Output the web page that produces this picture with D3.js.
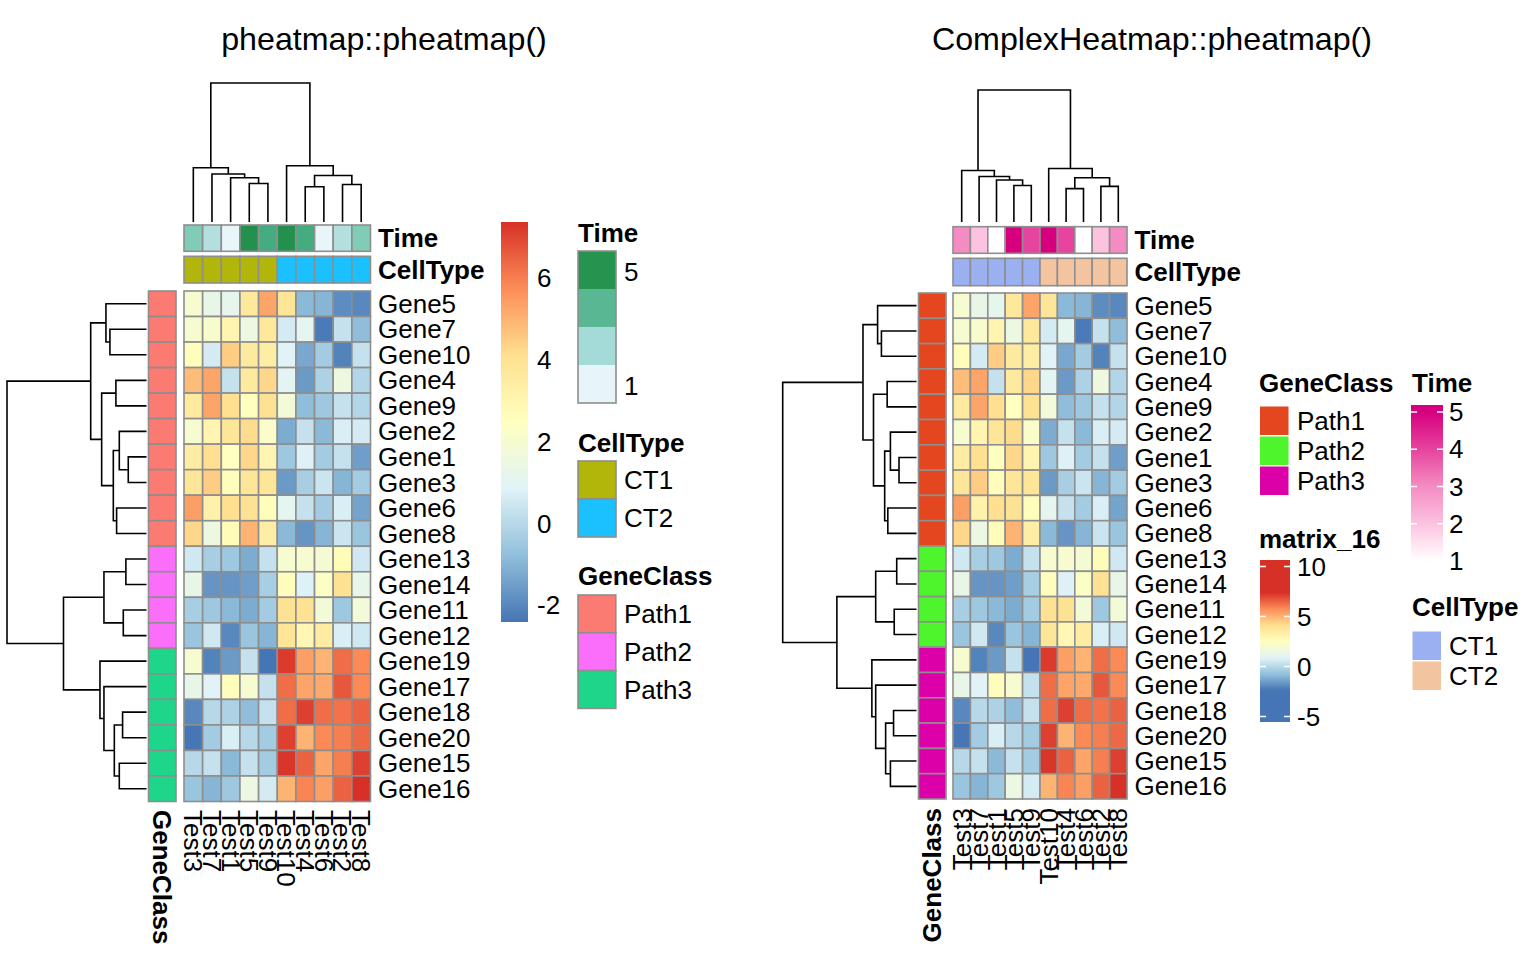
<!DOCTYPE html>
<html>
<head>
<meta charset="utf-8">
<script src="https://cdn.jsdelivr.net/npm/d3@7"></script>
<style>
body { margin: 0; background: #fff; }
text { font-family: "Liberation Sans", Arial, Helvetica, sans-serif; fill: #000; }
</style>
</head>
<body>
<svg id="chart" width="1536" height="960"></svg>
<script>

// ---- data (display order, as clustered) ----
var genes = ["Gene5","Gene7","Gene10","Gene4","Gene9","Gene2","Gene1","Gene3","Gene6","Gene8",
             "Gene13","Gene14","Gene11","Gene12","Gene19","Gene17","Gene18","Gene20","Gene15","Gene16"];
var tests = ["Test3","Test7","Test1","Test5","Test9","Test10","Test4","Test6","Test2","Test8"];

var timeOfTest = [3, 2, 1, 5, 4, 5, 4, 1, 2, 3];
var cellTypeOfTest = ["CT1","CT1","CT1","CT1","CT1","CT2","CT2","CT2","CT2","CT2"];
var geneClassOfGene = ["Path1","Path1","Path1","Path1","Path1","Path1","Path1","Path1","Path1","Path1",
                       "Path2","Path2","Path2","Path2","Path3","Path3","Path3","Path3","Path3","Path3"];

var expr = [
  [ 2.0, 1.3, 1.2, 3.7, 5.3, 3.8,-0.9,-1.0,-1.9,-2.0],
  [ 2.0, 2.1, 3.0, 1.5, 3.7, 0.6, 1.1,-2.3, 0.3,-0.8],
  [ 2.6, 0.6, 4.5, 3.6, 3.4, 0.9,-1.3,-0.4,-2.1, 0.3],
  [ 4.8, 5.3, 0.3, 3.6, 4.3, 1.0,-1.6,-0.2, 1.6,-0.1],
  [ 3.6, 5.3, 4.1, 2.5, 4.0, 1.8,-0.8,-0.5, 0.3,-0.1],
  [ 2.0, 3.0, 3.8, 4.2, 2.2,-1.2, 0.3,-0.9, 0.7, 0.6],
  [ 3.5, 4.1, 2.5, 4.3, 3.0,-0.5, 0.8,-0.4, 0.3,-1.5],
  [ 3.8, 4.5, 2.6, 3.8, 3.8,-1.6,-0.3, 0.4,-1.0,-0.4],
  [ 5.4, 3.2, 4.1, 4.0, 2.6, 1.1, 0.3,-0.4, 0.7,-1.4],
  [ 4.3, 1.5, 2.7, 5.0, 3.4,-0.9,-1.7,-1.0, 0.4,-0.6],
  [ 0.5,-0.3,-0.5,-1.2, 0.3, 2.0, 2.0, 1.9, 2.7, 0.5],
  [ 1.3,-1.7,-1.7,-1.5,-0.3, 2.6, 0.8, 2.3, 4.0, 1.3],
  [-0.3,-0.5,-0.9,-1.2,-0.4, 4.0, 4.0, 1.8,-0.5, 1.8],
  [-0.6, 0.5,-2.0,-0.6,-1.0, 3.8, 2.9, 3.5, 0.7, 0.5],
  [ 2.0,-2.1,-1.6, 0.3,-2.41,7.2, 5.4, 5.0, 6.3, 5.8],
  [ 1.3, 0.9, 2.6, 2.0, 0.3, 6.3, 5.3, 5.2, 6.7, 5.8],
  [-2.0, 0.0,-0.2,-0.8, 0.3, 6.3, 7.1, 6.3, 6.2, 6.5],
  [-2.38,-0.4,0.7, 0.0,-0.4, 7.1, 5.0, 5.8, 6.0, 6.4],
  [ 0.0, 0.3,-0.9, 0.3,-0.4, 7.3, 6.5, 5.3, 6.0, 7.1],
  [-0.6,-1.0,-0.5, 1.5, 0.6, 5.0, 5.9, 5.4, 6.5, 7.38]
];

// merge heights of the clustering trees
var rowTree = {h:140, c:[
  {h:56, c:[
    {h:40.7, c:["Gene5", {h:36.7, c:["Gene7","Gene10"]}]},
    {h:45, c:[
      {h:30.7, c:["Gene4","Gene9"]},
      {h:33.3, c:[
        {h:27.3, c:["Gene2", {h:18.3, c:["Gene1","Gene3"]}]},
        {h:30, c:["Gene6","Gene8"]}
      ]}
    ]}
  ]},
  {h:83.3, c:[
    {h:42.7, c:[{h:20.7, c:["Gene13","Gene14"]}, {h:23.3, c:["Gene11","Gene12"]}]},
    {h:46.7, c:["Gene19", {h:42.7, c:["Gene17",
      {h:32.3, c:[{h:24, c:["Gene18","Gene20"]}, {h:27.3, c:["Gene15","Gene16"]}]}]}]}
  ]}
]};

var colTree = {h:138.3, c:[
  {h:54, c:["Test3", {h:47.7, c:["Test7", {h:44, c:["Test1", {h:38.3, c:["Test5","Test9"]}]}]}]},
  {h:56, c:["Test10", {h:46.3, c:[{h:35, c:["Test4","Test6"]}, {h:37.3, c:["Test2","Test8"]}]}]}
]};

var legendTicksLeft = [-2, 0, 2, 4, 6];
var legendTicksRight = [-5, 0, 5, 10];
var timeTicks = [1, 2, 3, 4, 5];

// ---- colours ----
var heatPalette = ["#4575B4","#91BFDB","#E0F3F8","#FFFFBF","#FEE090","#FC8D59","#D73027"];
var allVals = d3.merge(expr);
var vExt = d3.extent(allVals);
var heatColor = d3.scaleLinear()
    .domain(d3.range(7).map(function(i) { return vExt[0] + i * (vExt[1] - vExt[0]) / 6 }))
    .range(heatPalette)
    .clamp(true);

var leftTime = d3.scaleLinear().domain(timeTicks).range(["#E8F5F9","#B3E0DE","#80CCB6","#44AC7E","#23904E"]);
var leftTimeLegend = ["#E7F5F8","#A4DAD8","#5AB793","#26934F"];
var leftCell = {CT1: "#B2B50A", CT2: "#1BC1FE"};
var leftClass = {Path1: "#FB7A72", Path2: "#FA6EFA", Path3: "#1DD68A"};

var rightTime = d3.scaleLinear().domain(timeTicks).range(["#FFFFFF","#FCC3E0","#F48CC3","#E6449E","#D6007F"]).clamp(true);
var rightCell = {CT1: "#9BB0F0", CT2: "#F3C4A0"};
var rightClass = {Path1: "#E4471F", Path2: "#4EF52C", Path3: "#DB00A7"};

var svg = d3.select("#chart");
var defs = svg.append("defs");
var FS = 26;

function treeLayout(tree, pos) {
    var root = d3.hierarchy(tree, function(d) { return typeof d === "string" ? null : d.c });
    root.eachAfter(function(n) {
        if (!n.children) { n.p = pos(n.data); n.hh = 0 }
        else { n.p = d3.mean(n.children, function(c) { return c.p }); n.hh = n.data.h }
    });
    return root;
}

// draws elbow dendrogram; horizontal = tree grows leftwards (row tree)
function drawTree(g, root, hScale, horizontal) {
    var segs = [];
    root.each(function(n) {
        if (!n.children) return;
        var a = n.children[0], b = n.children[1];
        var pts = [[a.p, hScale(a.hh)], [a.p, hScale(n.hh)], [b.p, hScale(n.hh)], [b.p, hScale(b.hh)]];
        if (horizontal) pts = pts.map(function(q) { return [q[1], q[0]] });
        segs.push(pts);
    });
    g.selectAll(null).data(segs).enter().append("path")
        .attr("d", d3.line())
        .attr("fill", "none")
        .attr("stroke", "#000")
        .attr("stroke-width", 1.6);
}

function Panel(o) {
    var g = svg.append("g");
    var x = d3.scaleBand().domain(tests).range([o.x0, o.x1]);
    var y = d3.scaleBand().domain(genes).range([o.y0, o.y1]);
    var cw = x.bandwidth(), rh = y.bandwidth();

    var cells = [];
    genes.forEach(function(gn, i) {
        tests.forEach(function(t, j) { cells.push({gene: gn, test: t, v: expr[i][j]}) });
    });

    g.selectAll(".cell").data(cells).enter().append("rect")
        .attr("class", "cell")
        .attr("x", function(d) { return x(d.test) })
        .attr("y", function(d) { return y(d.gene) })
        .attr("width", cw).attr("height", rh)
        .attr("fill", function(d) { return heatColor(d.v) })
        .attr("stroke", "#8E8E8E").attr("stroke-width", 1.6);

    // column annotations
    g.selectAll(".time").data(tests).enter().append("rect")
        .attr("x", function(d) { return x(d) }).attr("y", o.timeY[0])
        .attr("width", cw).attr("height", o.timeY[1] - o.timeY[0])
        .attr("fill", function(d, i) { return o.timeColor(timeOfTest[i]) })
        .attr("stroke", "#8E8E8E").attr("stroke-width", 1.6);
    g.selectAll(".ct").data(tests).enter().append("rect")
        .attr("x", function(d) { return x(d) }).attr("y", o.cellY[0])
        .attr("width", cw).attr("height", o.cellY[1] - o.cellY[0])
        .attr("fill", function(d, i) { return o.cellColor[cellTypeOfTest[i]] })
        .attr("stroke", "#8E8E8E").attr("stroke-width", 1.6);

    // row annotation
    g.selectAll(".gc").data(genes).enter().append("rect")
        .attr("x", o.classX[0]).attr("y", function(d) { return y(d) })
        .attr("width", o.classX[1] - o.classX[0]).attr("height", rh)
        .attr("fill", function(d, i) { return o.classColor[geneClassOfGene[i]] })
        .attr("stroke", "#8E8E8E").attr("stroke-width", 1.6);

    // row names
    g.selectAll(".rl").data(genes).enter().append("text")
        .attr("x", o.x1 + 7.5).attr("y", function(d) { return y(d) + rh / 2 })
        .attr("dy", "0.35em").style("font-size", FS + "px")
        .text(function(d) { return d });

    g.append("text").attr("x", o.x1 + 7.5).attr("y", (o.timeY[0] + o.timeY[1]) / 2)
        .attr("dy", "0.35em").style("font-size", FS + "px").style("font-weight", "bold").text("Time");
    g.append("text").attr("x", o.x1 + 7.5).attr("y", (o.cellY[0] + o.cellY[1]) / 2)
        .attr("dy", "0.35em").style("font-size", FS + "px").style("font-weight", "bold").text("CellType");

    // column names
    var rot = o.downward ? 90 : -90;
    g.selectAll(".cl").data(tests).enter().append("text")
        .attr("transform", function(d) { return "translate(" + (x(d) + cw / 2) + "," + o.labY + ") rotate(" + rot + ")" })
        .attr("dy", "0.35em").attr("text-anchor", o.downward ? "start" : "end")
        .style("font-size", FS + "px")
        .text(function(d) { return d });
    g.append("text")
        .attr("transform", "translate(" + ((o.classX[0] + o.classX[1]) / 2) + "," + o.labY + ") rotate(" + rot + ")")
        .attr("dy", "0.35em").attr("text-anchor", o.downward ? "start" : "end")
        .style("font-size", FS + "px").style("font-weight", "bold")
        .text("GeneClass");

    // dendrograms
    var rRoot = treeLayout(rowTree, function(d) { return y(d) + rh / 2 });
    var rh2 = d3.scaleLinear().domain([0, rowTree.h]).range([o.rowLeaf, o.rowRoot]);
    drawTree(g, rRoot, rh2, true);

    var cRoot = treeLayout(colTree, function(d) { return x(d) + cw / 2 });
    var ch2 = d3.scaleLinear().domain([0, colTree.h]).range([o.colLeaf, o.colRoot]);
    drawTree(g, cRoot, ch2, false);

    g.append("text").attr("x", o.titleX).attr("y", 50)
        .attr("text-anchor", "middle").style("font-size", "32.2px").text(o.title);
}

Panel({
    title: "pheatmap::pheatmap()", titleX: 384,
    x0: 184, x1: 370.5, y0: 291, y1: 801.5,
    timeY: [225, 251.3], cellY: [256.3, 283], classX: [148.5, 176],
    rowLeaf: 146.5, rowRoot: 7, colLeaf: 222, colRoot: 83,
    timeColor: leftTime, cellColor: leftCell, classColor: leftClass,
    downward: true, labY: 810
});

Panel({
    title: "ComplexHeatmap::pheatmap()", titleX: 1152,
    x0: 953, x1: 1127, y0: 293, y1: 799,
    timeY: [226.7, 253.3], cellY: [258.3, 285.7], classX: [918.5, 946],
    rowLeaf: 916.5, rowRoot: 782.7, colLeaf: 222, colRoot: 90,
    timeColor: rightTime, cellColor: rightCell, classColor: rightClass,
    downward: false, labY: 808
});

// ---- left legends (pheatmap style) ----
function gradient(id, scale, lo, hi, n) {
    var gr = defs.append("linearGradient").attr("id", id)
        .attr("x1", 0).attr("y1", 1).attr("x2", 0).attr("y2", 0);
    d3.range(n + 1).forEach(function(i) {
        var v = lo + i * (hi - lo) / n;
        gr.append("stop").attr("offset", (i / n * 100) + "%").attr("stop-color", scale(v));
    });
    return "url(#" + id + ")";
}

var lg = svg.append("g");
var lBar = d3.scaleLinear().domain(vExt).range([622, 222]);
lg.append("rect").attr("x", 501).attr("y", 222).attr("width", 27).attr("height", 400)
    .attr("fill", gradient("gl", heatColor, vExt[0], vExt[1], 60));
lg.selectAll(".lt").data(legendTicksLeft).enter().append("text")
    .attr("x", 537).attr("y", function(d) { return lBar(d) }).attr("dy", "0.35em")
    .style("font-size", FS + "px").text(function(d) { return d });

function title(g, x, y, t) {
    g.append("text").attr("x", x).attr("y", y).attr("dy", "0.35em")
        .style("font-size", FS + "px").style("font-weight", "bold").text(t);
}

title(lg, 578, 233, "Time");
var segH = 38;
lg.selectAll(".ts").data(leftTimeLegend).enter().append("rect")
    .attr("x", 578).attr("y", function(d, i) { return 403 - (i + 1) * segH })
    .attr("width", 38).attr("height", segH).attr("fill", function(d) { return d });
lg.append("rect").attr("x", 578).attr("y", 251).attr("width", 38).attr("height", 152)
    .attr("fill", "none").attr("stroke", "#8E8E8E").attr("stroke-width", 1.6);
lg.append("text").attr("x", 624).attr("y", 272).attr("dy", "0.35em").style("font-size", FS + "px").text("5");
lg.append("text").attr("x", 624).attr("y", 386).attr("dy", "0.35em").style("font-size", FS + "px").text("1");

function boxes(g, keys, colors, x, y0, h, labX, stroke, gap) {
    g.selectAll(null).data(keys).enter().append("rect")
        .attr("x", x).attr("y", function(d, i) { return y0 + i * h })
        .attr("width", h).attr("height", h - (gap || 0))
        .attr("fill", function(d) { return colors[d] })
        .attr("stroke", stroke).attr("stroke-width", stroke === "none" ? 0 : 1.6);
    g.selectAll(null).data(keys).enter().append("text")
        .attr("x", labX).attr("y", function(d, i) { return y0 + i * h + (h - (gap || 0)) / 2 })
        .attr("dy", "0.35em").style("font-size", FS + "px").text(function(d) { return d });
}

title(lg, 578, 443, "CellType");
boxes(lg, ["CT1","CT2"], leftCell, 578, 461, 38, 624, "#8E8E8E");
title(lg, 578, 576, "GeneClass");
boxes(lg, ["Path1","Path2","Path3"], leftClass, 578, 595, 37.8, 624, "#8E8E8E");

// ---- right legends (ComplexHeatmap style) ----
var rg = svg.append("g");
title(rg, 1259, 383, "GeneClass");
rg.selectAll(null).data(["Path1","Path2","Path3"]).enter().append("rect")
    .attr("x", 1260).attr("y", function(d, i) { return 406.5 + i * 30 })
    .attr("width", 28.5).attr("height", 28.5).attr("fill", function(d) { return rightClass[d] });
rg.selectAll(null).data(["Path1","Path2","Path3"]).enter().append("text")
    .attr("x", 1297).attr("y", function(d, i) { return 421 + i * 30 }).attr("dy", "0.35em")
    .style("font-size", FS + "px").text(function(d) { return d });

title(rg, 1259, 539, "matrix_16");
var mBar = d3.scaleLinear().domain([-5, 10]).range([716.5, 566.5]);
rg.append("rect").attr("x", 1260).attr("y", 560).attr("width", 30).attr("height", 162)
    .attr("fill", gradient("gm", heatColor, mBar.invert(722), mBar.invert(560), 80));
legendTicksRight.forEach(function(t) {
    rg.append("path").attr("d", "M1260," + mBar(t) + "h6M1284," + mBar(t) + "h6")
        .attr("stroke", "#fff").attr("stroke-width", 1.6);
});
rg.selectAll(null).data(legendTicksRight).enter().append("text")
    .attr("x", 1297).attr("y", function(d) { return mBar(d) }).attr("dy", "0.35em")
    .style("font-size", FS + "px").text(function(d) { return d });

title(rg, 1412, 383, "Time");
var tBar = d3.scaleLinear().domain([1, 5]).range([561, 412]);
rg.append("rect").attr("x", 1411).attr("y", 405).attr("width", 32).attr("height", 162)
    .attr("fill", gradient("gt", rightTime, tBar.invert(567), tBar.invert(405), 40));
timeTicks.forEach(function(t) {
    rg.append("path").attr("d", "M1411," + tBar(t) + "h6M1437," + tBar(t) + "h6")
        .attr("stroke", "#fff").attr("stroke-width", 1.6);
});
rg.selectAll(null).data(timeTicks).enter().append("text")
    .attr("x", 1449).attr("y", function(d) { return tBar(d) }).attr("dy", "0.35em")
    .style("font-size", FS + "px").text(function(d) { return d });

title(rg, 1412, 607, "CellType");
rg.selectAll(null).data(["CT1","CT2"]).enter().append("rect")
    .attr("x", 1412.5).attr("y", function(d, i) { return 631.5 + i * 30 })
    .attr("width", 28.5).attr("height", 28.5).attr("fill", function(d) { return rightCell[d] });
rg.selectAll(null).data(["CT1","CT2"]).enter().append("text")
    .attr("x", 1449).attr("y", function(d, i) { return 646 + i * 30 }).attr("dy", "0.35em")
    .style("font-size", FS + "px").text(function(d) { return d });

</script>
</body>
</html>
